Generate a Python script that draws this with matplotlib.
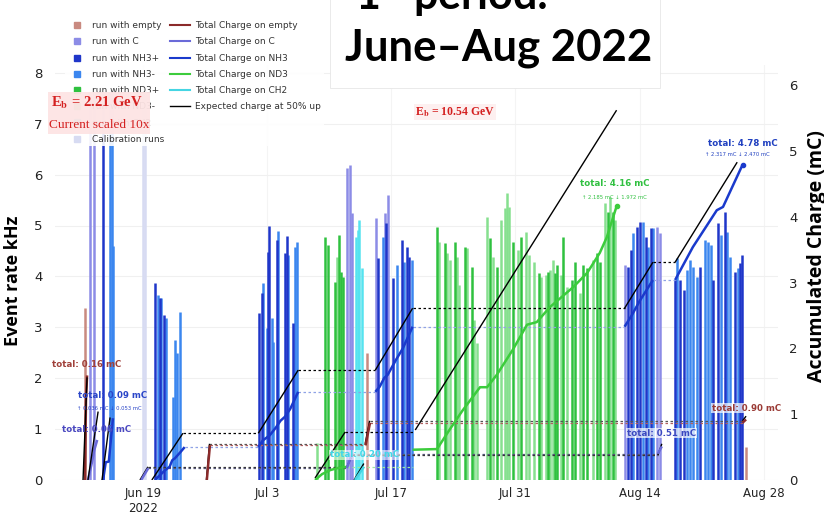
import matplotlib
matplotlib.use("Agg")
import matplotlib.pyplot as plt
from matplotlib.lines import Line2D
from matplotlib.patches import Rectangle

plt.rcParams['font.family'] = ['DejaVu Sans']
plt.rcParams['mathtext.fontset'] = 'stix'

# x = days since 2022-06-01
tick_days = [18, 32, 46, 60, 74, 88]
tick_labels = ["Jun 19\n2022", "Jul 3", "Jul 17", "Jul 31", "Aug 14", "Aug 28"]

# ---- run bars (event rate, kHz) ----
empty_days = [11.46, 43.25, 85.98]
empty_rate = [3.38, 2.50, 0.65]

c_days = [12.02, 12.48, 41.00, 41.34, 41.56, 44.27, 45.28, 45.62, 72.34, 75.95, 76.29]
c_rate = [7.6, 7.6, 6.13, 6.19, 5.25, 5.15, 5.25, 5.60, 4.22, 4.97, 4.85]

nh3p_days = [13.49, 19.35, 19.92, 20.37, 31.08, 31.42, 32.09, 32.21, 33.11, 34.01, 34.23, 34.91,
             44.50, 45.40, 46.19, 47.20, 47.76, 47.99, 72.68, 73.02, 73.69, 74.03, 74.71, 75.27,
             77.98, 78.54, 78.99, 80.80, 82.26, 82.83, 83.61, 84.74, 85.30, 85.53]
nh3p_rate = [7.6, 3.87, 3.58, 3.24, 3.28, 3.67, 4.48, 4.99, 4.72, 4.46, 4.79, 3.08,
             4.36, 5.05, 3.97, 4.72, 4.58, 4.38, 4.18, 4.52, 4.97, 5.07, 4.77, 4.95,
             3.93, 3.93, 3.73, 4.19, 3.93, 5.05, 5.27, 4.09, 4.26, 4.42]

nh3m_days = [14.28, 14.50, 14.62, 19.69, 20.03, 20.59, 21.38, 21.61, 21.83, 22.17,
             31.53, 31.98, 32.54, 32.66, 33.22, 34.35, 35.14, 35.36,
             45.06, 46.64, 47.43, 48.33, 73.24, 74.37, 74.93, 75.50,
             78.20, 79.33, 79.67, 80.00, 80.46, 81.36, 81.70, 82.04, 83.16, 83.84, 84.18, 85.08]
nh3m_rate = [7.6, 7.6, 4.6, 3.63, 3.58, 3.18, 1.63, 2.75, 2.50, 3.30,
             3.87, 2.99, 3.18, 2.71, 4.90, 4.42, 4.58, 4.68,
             4.77, 4.22, 4.28, 4.32, 4.85, 5.07, 4.58, 4.95,
             4.36, 4.13, 4.32, 4.19, 3.99, 4.72, 4.68, 4.62, 4.81, 4.87, 4.38, 4.16]

nd3p_days = [38.52, 38.86, 39.65, 40.10, 40.32, 40.55, 51.15, 52.05, 53.17, 54.30, 55.09, 57.12,
             57.91, 59.71, 60.62, 62.65, 63.66, 64.45, 64.67, 65.35, 66.37, 66.70, 67.61, 68.06,
             69.18, 69.52, 70.42, 70.99]
nd3p_rate = [4.77, 4.62, 3.89, 4.81, 4.09, 3.99, 4.97, 4.66, 4.68, 4.58, 4.18, 4.75,
             4.18, 4.68, 4.77, 4.07, 4.09, 4.07, 4.22, 4.77, 3.93, 4.28, 4.22, 4.16,
             4.46, 4.28, 5.27, 5.27]

nd3m_days = [37.62, 39.87, 51.37, 52.27, 52.61, 53.40, 53.62, 54.53, 55.32, 55.65, 56.78, 57.46,
             58.36, 58.81, 59.04, 59.26, 60.28, 61.18, 61.52, 62.08, 62.87, 63.43, 63.89, 64.22,
             65.12, 65.80, 67.27, 68.73, 70.08, 70.65, 71.21]
nd3m_rate = [0.73, 4.38, 4.68, 4.46, 4.32, 4.38, 3.83, 4.56, 3.14, 2.69, 5.17, 4.38,
             5.11, 5.34, 5.64, 5.36, 4.52, 4.87, 4.42, 4.28, 3.99, 4.03, 4.13, 4.32,
             4.03, 3.79, 3.67, 4.32, 5.44, 5.56, 5.11]

ch2_days = [42.01, 42.24, 42.35, 42.69]
ch2_rate = [4.77, 4.91, 5.11, 4.16]

calib_days = [18.00, 18.23]
calib_rate = [7.6, 7.6]

# ---- accumulated charge (mC), segments per target ----
empty_early = ([11.46, 11.57, 11.69], [0, 1.20, 1.57])
c_early = ([11.80, 12.25, 12.50, 12.80], [0, 0.27, 0.45, 0.59])
nh3_early = ([13.50, 13.80, 14.15, 14.30, 14.60], [0, 0.27, 0.28, 0.50, 0.92])
exp_early = [([11.24, 11.69], [0, 1.55]), ([11.80, 12.93], [0, 1.03]), ([13.38, 14.28], [0, 0.94])]

nh3_seg = [
    ([19.35, 20.5, 21.0, 21.3, 21.6, 22.2, 22.7], [0, 0.15, 0.20, 0.30, 0.33, 0.42, 0.50]),
    ([31.0, 31.5, 32.3, 33.0, 33.5, 34.0, 34.6, 35.5], [0.50, 0.60, 0.68, 0.80, 0.90, 0.96, 1.08, 1.34]),
    ([44.2, 44.7, 45.2, 45.6, 46.5, 47.3, 48.4], [1.34, 1.42, 1.55, 1.60, 1.82, 2.00, 2.33]),
    ([72.3, 73.1, 74.0, 75.5], [2.33, 2.50, 2.72, 3.04]),
    ([78.0, 80.0, 82.7, 83.4, 85.6], [3.04, 3.54, 4.10, 4.15, 4.79]),
]
exp_nh3 = [([19.0, 22.5], [0, 0.71]), ([31.0, 35.5], [0.71, 1.67]), ([44.2, 48.4], [1.67, 2.61]),
           ([72.3, 75.5], [2.61, 3.31]), ([78.0, 85.0], [3.31, 4.83])]

nd3_seg = [
    ([37.4, 38.2, 39.1, 39.9, 41.0], [0, 0.09, 0.15, 0.18, 0.20]),
    ([48.4, 51.15, 52.5, 54.0, 56.0, 56.8, 57.9, 59.7, 61.3, 62.4, 63.9, 66.5, 68.1, 69.5, 70.3, 71.4],
     [0.46, 0.47, 0.75, 1.05, 1.41, 1.41, 1.60, 1.98, 2.36, 2.40, 2.63, 2.93, 3.15, 3.45, 3.69, 4.16]),
]
exp_nd3 = [([37.4, 40.8], [0.03, 0.73]), ([48.7, 71.4], [0.76, 5.62])]

c_seg = [([17.8, 18.6], [0, 0.18]), ([41.0, 41.3, 41.6], [0.18, 0.30, 0.40]), ([76.06, 76.5], [0.40, 0.51])]
exp_c = [([17.66, 18.56], [0, 0.20]), ([41.0, 41.6], [0.20, 0.38]), ([76.06, 76.5], [0.38, 0.55])]

empty_seg = [([25.2, 25.55], [0, 0.53]), ([43.1, 43.6], [0.53, 0.87]), ([85.6, 86.0], [0.87, 0.92])]
exp_empty = [([25.15, 25.5], [0, 0.55]), ([43.05, 43.55], [0.55, 0.90]), ([85.6, 86.0], [0.90, 0.97])]

ch2_seg = [([41.9, 42.5, 42.9], [0, 0.12, 0.20])]
exp_ch2 = [([41.8, 42.9], [0, 0.25])]

col_empty_bar = '#c98a80'
col_c_bar = '#8c8ce6'
col_nh3p_bar = '#1f36c9'
col_nh3m_bar = '#3b86ef'
col_nd3p_bar = '#2fc13f'
col_nd3m_bar = '#86e08f'
col_ch2_bar = '#55e3ef'
col_calib_bar = '#d7dbf2'

col_empty = '#8b2a2a'
col_c = '#6a6ad8'
col_nh3 = '#1a3acc'
col_nd3 = '#3ccc3c'
col_ch2 = '#45d5e3'


def draw_series(ax, segs, color, lw, dot_color, end_marker=False):
    for i, (xs, ys) in enumerate(segs):
        ax.plot(xs, ys, color=color, lw=lw, solid_capstyle='butt', zorder=3)
        if i + 1 < len(segs):
            ax.plot([xs[-1], segs[i + 1][0][0]], [ys[-1], ys[-1]], color=dot_color,
                    lw=0.9, ls=(0, (2, 2)), zorder=2)
    if end_marker:
        ax.plot(segs[-1][0][-1], segs[-1][1][-1], 'o', color=color, ms=3, zorder=4)


fig = plt.figure(figsize=(8.24, 5.16), dpi=100)
ax = fig.add_axes([55 / 824, 36 / 516, 723 / 824, 415 / 516])
ax2 = ax.twinx()

# bars
lw_bar = 1.8
for days, rate, col in [(calib_days, calib_rate, col_calib_bar), (empty_days, empty_rate, col_empty_bar),
                        (c_days, c_rate, col_c_bar), (nh3m_days, nh3m_rate, col_nh3m_bar),
                        (nh3p_days, nh3p_rate, col_nh3p_bar), (nd3m_days, nd3m_rate, col_nd3m_bar),
                        (nd3p_days, nd3p_rate, col_nd3p_bar), (ch2_days, ch2_rate, col_ch2_bar)]:
    ax.vlines(days, 0, rate, colors=col, lw=lw_bar)

ax.set_xlim(8.08, 89.6)
ax.set_ylim(0, 415 / 50.9)
ax2.set_ylim(0, 415 / 65.8)

# charge lines
ax2.plot(*empty_early, color=col_empty, lw=1.8)
ax2.plot(*c_early, color=col_c, lw=1.8)
ax2.plot(*nh3_early, color=col_nh3, lw=1.8)
for xs, ys in exp_early:
    ax2.plot(xs, ys, color='black', lw=1.0)

draw_series(ax2, exp_nh3, 'black', 1.0, 'black')
draw_series(ax2, exp_nd3, 'black', 1.0, 'black')
draw_series(ax2, exp_c, 'black', 1.0, '#333333')
draw_series(ax2, exp_empty, 'black', 1.0, '#555555')
draw_series(ax2, exp_ch2, 'black', 1.0, 'black')
draw_series(ax2, nh3_seg, col_nh3, 1.8, '#8fa2e6', end_marker=True)
draw_series(ax2, nd3_seg, col_nd3, 1.8, '#9ee89e', end_marker=True)
draw_series(ax2, c_seg, col_c, 1.8, '#555577')
draw_series(ax2, empty_seg, col_empty, 1.8, '#b06060')
draw_series(ax2, ch2_seg, col_ch2, 1.8, col_ch2)

# annotations
txt = dict(fontsize=6.2, fontweight='bold', va='center', ha='left')
ax2.text(7.74, 1.76, "total: 0.16 mC", color='#a0403a', **txt)
ax2.text(10.67, 1.29, "total: 0.09 mC", color='#2a45c8', **txt)
ax2.text(10.56, 1.09, "\u2191 0.036 mC \u2193 0.053 mC", color='#2a45c8', fontsize=3.8, va='center')
ax2.text(8.87, 0.76, "total: 0.06 mC", color='#4a48c0', **txt)
ax2.text(39.08, 0.38, "total: 0.20 mC", color='#40d8e8',
         bbox=dict(facecolor='white', alpha=0.6, edgecolor='none', pad=0.5), **txt)
ax2.text(67.27, 4.50, "total: 4.16 mC", color='#30c040', **txt)
ax2.text(67.5, 4.30, "\u2191 2.185 mC \u2193 1.972 mC", color='#30c040', fontsize=3.8, va='center')
ax2.text(81.70, 5.12, "total: 4.78 mC", color='#2040c0', **txt)
ax2.text(81.36, 4.94, "\u2191 2.317 mC \u2193 2.470 mC", color='#2040c0', fontsize=3.8, va='center')
ax2.text(72.57, 0.71, "total: 0.51 mC", color='#3a48c0',
         bbox=dict(facecolor='white', alpha=0.7, edgecolor='none', pad=0.5), **txt)
ax2.text(82.15, 1.09, "total: 0.90 mC", color='#9a3a35',
         bbox=dict(facecolor='white', alpha=0.7, edgecolor='none', pad=0.5), **txt)

# axes styling
for a in (ax, ax2):
    for s in a.spines.values():
        s.set_visible(False)
ax.set_axisbelow(True)
ax.grid(axis='y', color='#f0f0f0', lw=0.8)
ax.grid(axis='x', color='#f4f4f4', lw=0.8)
ax.set_xticks(tick_days)
ax.set_xticklabels(tick_labels, fontsize=8.5, color='#222222')
ax.set_yticks(range(0, 9))
ax.tick_params(axis='y', length=0, pad=9, labelsize=9.5, labelcolor='#222222')
ax.tick_params(axis='x', length=0, pad=5)
ax2.set_yticks(range(0, 7))
ax2.tick_params(axis='y', length=0, pad=8, labelsize=9.5, labelcolor='#222222')
ax.set_ylabel("Event rate kHz", fontsize=13, fontweight='bold', family='Open Sans')
ax.yaxis.set_label_coords(-0.046, 0.48)
ax2.set_ylabel("Accumulated Charge (mC)", fontsize=14, fontweight='bold', family='Open Sans')
ax2.yaxis.set_label_coords(1.04, 0.54)

# legend
run_labels = ['run with empty', 'run with C', 'run with NH3+', 'run with NH3-', 'run with ND3+',
              'run with ND3-', 'run with CH2', 'Calibration runs']
run_colors = [col_empty_bar, col_c_bar, col_nh3p_bar, col_nh3m_bar, col_nd3p_bar,
              col_nd3m_bar, col_ch2_bar, col_calib_bar]
line_labels = ['Total Charge on empty', 'Total Charge on C', 'Total Charge on NH3',
               'Total Charge on ND3', 'Total Charge on CH2', 'Expected charge at 50% up']
line_colors = [col_empty, col_c, col_nh3, col_nd3, col_ch2, 'black']

handles = [Line2D([], [], ls='none', marker='s', ms=5, color=c) for c in run_colors]
handles += [Line2D([], [], color=c, lw=1.5 if c != 'black' else 1.0) for c in line_colors]
handles += [Line2D([], [], color='none')] * 2
labels = run_labels + line_labels + ['', '']
leg = ax2.legend(handles, labels, ncol=2, loc='upper left', bbox_to_anchor=(60 / 824, 1 - 14 / 516),
                 bbox_transform=fig.transFigure, fontsize=6.5, frameon=True, framealpha=0.9,
                 edgecolor='none', facecolor='white', handlelength=2.2, handletextpad=0.6,
                 columnspacing=0.6, labelspacing=0.8, borderpad=0.3)
for t in leg.get_texts():
    t.set_color('#333333')

# red beam-energy labels
fig.patches.append(Rectangle((48 / 824, 1 - 134 / 516), 102 / 824, 42 / 516, transform=fig.transFigure,
                             facecolor='#fde4e4', edgecolor='none', alpha=0.95, zorder=2))
fig.text(0.118, 0.800, r"E$_\mathbf{b}$ = 2.21 GeV", family='Liberation Serif', fontweight='bold',
         color='#d42020', fontsize=10.5, ha='center', va='center')
fig.text(0.120, 0.758, "Current scaled 10x", family='Liberation Serif', color='#d42020',
         fontsize=9.5, ha='center', va='center')
fig.text(0.552, 0.783, r"E$_\mathbf{b}$ = 10.54 GeV", family='Liberation Serif', fontweight='bold',
         color='#d42020', fontsize=8.5, ha='center', va='center',
         bbox=dict(facecolor='#fdf0f0', edgecolor='none', pad=1))

# title box
fig.patches.append(Rectangle((330 / 824, 1 - 88 / 516), 330 / 824, 90 / 516, transform=fig.transFigure,
                             facecolor='white', edgecolor='#e6e6e6', lw=0.6, zorder=2))
fig.text(355 / 824, 1 - 10 / 516, r"1$^{\mathrm{st}}$ period:", family='Lato', fontweight='bold',
         fontsize=31, ha='left', va='baseline')
fig.text(345 / 824, 1 - 61 / 516, "June\u2013Aug 2022", family='Lato', fontweight='bold',
         fontsize=31.5, ha='left', va='baseline')

fig.savefig("out.png", dpi=100)
